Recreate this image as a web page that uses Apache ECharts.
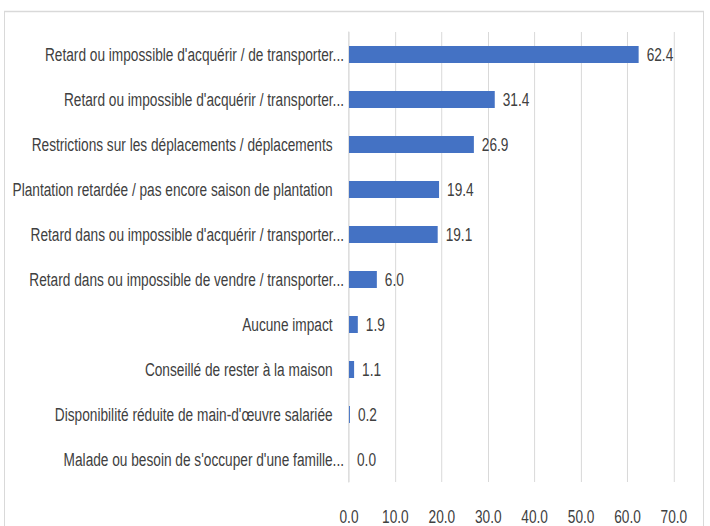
<!DOCTYPE html>
<html>
<head>
<meta charset="utf-8">
<script src="https://cdn.jsdelivr.net/npm/echarts@6/dist/echarts.min.js"></script>
<style>
    html, body { margin: 0; padding: 0; background: #fff; overflow: hidden; }
    #chart { height: 526px; transform-origin: 0 0; }
</style>
</head>
<body>
<div id="chart"></div>
<script>
    // categories, top to bottom as shown
    var categories = [
        "Retard ou impossible d'acquérir / de transporter...",
        "Retard ou impossible d'acquérir / transporter...",
        "Restrictions sur les déplacements / déplacements   ",
        "Plantation retardée / pas encore saison de plantation   ",
        "Retard dans ou impossible d'acquérir / transporter...",
        "Retard dans ou impossible de vendre / transporter...",
        "Aucune impact   ",
        "Conseillé de rester à la maison   ",
        "Disponibilité réduite de main-d'œuvre salariée   ",
        "Malade ou besoin de s'occuper d'une famille..."
    ];
    var values = [62.4, 31.4, 26.9, 19.4, 19.1, 6.0, 1.9, 1.1, 0.2, 0.0];
    var xTicks = [0, 70, 10];  // min, max, step

    // the source picture is squeezed sideways, so draw wide and squeeze it back
    var sx = 0.72;
    var W = 710 / sx;
    var el = document.getElementById('chart');
    el.style.width = W + 'px';
    el.style.transform = 'scaleX(' + sx + ')';

    var font = '"Liberation Sans", Arial, sans-serif';
    var chart = echarts.init(el, null, { renderer: 'svg' });

    var option = {
        animation: false,
        textStyle: { fontFamily: font },
        graphic: [{
            type: 'rect',
            shape: { x: 4.5 / sx, y: 11.5, width: 699 / sx, height: 530 },
            style: { fill: 'none', stroke: '#d9d9d9', lineWidth: 1 / sx },
            silent: true
        }],
        grid: { left: 349 / sx, right: 36 / sx, top: 32, bottom: 43 },
        xAxis: {
            type: 'value',
            min: xTicks[0],
            max: xTicks[1],
            interval: xTicks[2],
            axisLine: { show: false },
            axisTick: { show: false },
            splitLine: { lineStyle: { color: '#d9d9d9', width: 1 / sx } },
            axisLabel: {
                color: '#404040',
                fontSize: 19,
                fontFamily: font,
                margin: 25,
                formatter: function (v) { return v.toFixed(1); }
            }
        },
        yAxis: {
            type: 'category',
            inverse: true,
            data: categories,
            axisTick: { show: false },
            axisLine: { lineStyle: { color: '#d9d9d9', width: 1 / sx } },
            axisLabel: {
                color: '#404040',
                fontSize: 19,
                fontFamily: font,
                margin: 5 / sx
            }
        },
        series: [{
            type: 'bar',
            data: values,
            barWidth: 17,
            itemStyle: { color: '#4472c4' },
            label: {
                show: true,
                position: 'right',
                distance: 8 / sx,
                color: '#404040',
                fontSize: 19,
                fontFamily: font,
                formatter: function (p) { return p.value.toFixed(1); }
            }
        }]
    };

    chart.setOption(option);
</script>
</body>
</html>
